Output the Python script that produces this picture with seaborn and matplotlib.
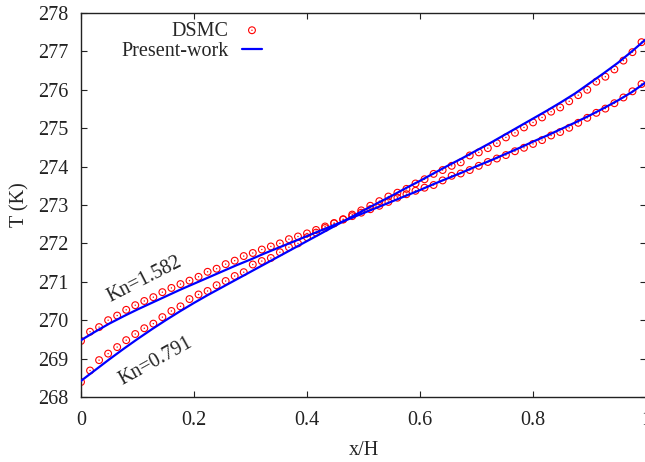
"""
Temperature profile across the channel: DSMC vs present work, two Knudsen numbers
"""

import matplotlib
matplotlib.use('Agg')
import matplotlib.pyplot as plt
import seaborn as sns

# DSMC sample positions (x/H)
x_dsmc = [0.0, 0.016, 0.032, 0.048, 0.064, 0.08, 0.096, 0.112, 0.128, 0.144,
          0.16, 0.176, 0.192, 0.208, 0.224, 0.24, 0.256, 0.272, 0.288, 0.304,
          0.32, 0.336, 0.352, 0.368, 0.384, 0.4, 0.416, 0.432, 0.448, 0.464,
          0.48, 0.496, 0.512, 0.528, 0.544, 0.56, 0.576, 0.592, 0.608, 0.624,
          0.64, 0.656, 0.672, 0.688, 0.704, 0.72, 0.736, 0.752, 0.768, 0.784,
          0.8, 0.816, 0.832, 0.848, 0.864, 0.88, 0.896, 0.912, 0.928, 0.944,
          0.96, 0.976, 0.992]

# DSMC temperatures (K)
t_dsmc_1582 = [269.46, 269.70, 269.82, 270.00, 270.12, 270.27, 270.39, 270.50, 270.60, 270.73,
               270.84, 270.94, 271.03, 271.13, 271.26, 271.34, 271.46, 271.55, 271.67, 271.75,
               271.84, 271.92, 272.00, 272.11, 272.18, 272.26, 272.35, 272.44, 272.53, 272.62,
               272.71, 272.80, 272.89, 272.98, 273.08, 273.19, 273.28, 273.37, 273.45, 273.52,
               273.64, 273.76, 273.82, 273.91, 274.02, 274.12, 274.21, 274.30, 274.40, 274.49,
               274.59, 274.69, 274.81, 274.90, 275.01, 275.14, 275.27, 275.40, 275.51, 275.65,
               275.80, 275.96, 276.15]
t_dsmc_0791 = [268.39, 268.69, 268.96, 269.13, 269.30, 269.48, 269.64, 269.79, 269.91, 270.08,
               270.24, 270.36, 270.55, 270.67, 270.76, 270.91, 271.02, 271.15, 271.25, 271.45,
               271.54, 271.62, 271.77, 271.90, 272.00, 272.16, 272.28, 272.40, 272.52, 272.63,
               272.75, 272.86, 272.98, 273.10, 273.22, 273.32, 273.42, 273.56, 273.67, 273.81,
               273.91, 274.02, 274.11, 274.29, 274.37, 274.48, 274.61, 274.76, 274.88, 275.02,
               275.15, 275.28, 275.43, 275.54, 275.70, 275.86, 276.00, 276.21, 276.34, 276.53,
               276.76, 276.98, 277.24]

# present-work curves
x_line = [0.0, 0.025, 0.05, 0.075, 0.1, 0.125, 0.15, 0.175, 0.2, 0.225,
          0.25, 0.275, 0.3, 0.325, 0.35, 0.375, 0.4, 0.425, 0.45, 0.475,
          0.5, 0.525, 0.55, 0.575, 0.6, 0.625, 0.65, 0.675, 0.7, 0.725,
          0.75, 0.775, 0.8, 0.825, 0.85, 0.875, 0.9, 0.925, 0.95, 0.975, 1.0]
t_line_1582 = [269.48, 269.70, 269.91, 270.10, 270.28, 270.45, 270.62, 270.79, 270.95, 271.11,
               271.27, 271.43, 271.58, 271.74, 271.89, 272.04, 272.19, 272.34, 272.49, 272.64,
               272.79, 272.94, 273.09, 273.24, 273.39, 273.55, 273.70, 273.85, 274.01, 274.16,
               274.32, 274.48, 274.65, 274.81, 274.98, 275.15, 275.33, 275.52, 275.72, 275.94,
               276.20]
t_line_0791 = [268.42, 268.70, 268.98, 269.25, 269.51, 269.76, 270.00, 270.23, 270.45, 270.66,
               270.86, 271.06, 271.26, 271.46, 271.66, 271.86, 272.06, 272.26, 272.46, 272.66,
               272.86, 273.05, 273.24, 273.44, 273.63, 273.83, 274.03, 274.22, 274.42, 274.62,
               274.83, 275.04, 275.25, 275.46, 275.68, 275.91, 276.17, 276.43, 276.70, 277.00,
               277.32]

x_ticks = [0, 0.2, 0.4, 0.6, 0.8, 1.0]
x_tick_labels = ['0', '0.2', '0.4', '0.6', '0.8', '1']
y_ticks = [268, 269, 270, 271, 272, 273, 274, 275, 276, 277, 278]

sns.set_theme(style='ticks')
plt.rcParams['font.family'] = ['Liberation Serif', 'DejaVu Serif']
plt.rcParams['text.color'] = '#262626'
plt.rcParams['axes.labelcolor'] = '#262626'

fs = 14.5

fig = plt.figure(figsize=(6.45, 4.62), dpi=100)
# axes right edge sits just past the image border, like the original
ax = fig.add_axes([0.1256, 0.1407, 0.8760, 0.8312])

for t in (t_dsmc_0791, t_dsmc_1582):
    sns.scatterplot(x=x_dsmc, y=t, ax=ax, marker='o', s=24, facecolor='none',
                    edgecolor='#ff0000', linewidth=0.8, zorder=2, legend=False)
    sns.scatterplot(x=x_dsmc, y=t, ax=ax, marker='o', s=1.0, color='#ff0000',
                    edgecolor='none', linewidth=0, zorder=2, legend=False)

for t in (t_line_0791, t_line_1582):
    sns.lineplot(x=x_line, y=t, ax=ax, color='#0000ff', linewidth=1.6, zorder=3)

ax.set_xlim(0, 1)
ax.set_ylim(268, 278)
ax.set_xticks(x_ticks)
ax.set_xticklabels(x_tick_labels)
ax.set_yticks(y_ticks)
ax.tick_params(direction='in', length=4.3, width=0.8, top=True, right=True,
               labelsize=fs, colors='#222222')
ax.tick_params(axis='x', pad=10)
ax.tick_params(axis='y', pad=9)
for sp in ax.spines.values():
    sp.set_linewidth(1.0)
    sp.set_color('#222222')

ax.set_xlabel('x/H', fontsize=fs, labelpad=8)
ax.set_ylabel('T (K)', fontsize=fs, labelpad=6)

ax.text(0.113, 271.05, 'Kn=1.582', rotation=27, ha='center', va='center',
        rotation_mode='anchor', fontsize=fs)
ax.text(0.132, 268.92, 'Kn=0.791', rotation=29, ha='center', va='center',
        rotation_mode='anchor', fontsize=fs)

circ, dot, line = ax.collections[0], ax.collections[1], ax.lines[0]
ax.legend([(circ, dot), line], ['DSMC', 'Present-work'], markerfirst=False,
          frameon=False, loc='upper right', bbox_to_anchor=(0.3204, 0.978),
          handlelength=1.0, handletextpad=0.65, labelspacing=0.05,
          borderpad=0, borderaxespad=0, fontsize=fs)

fig.savefig('out.png', dpi=100, facecolor='white')
plt.close(fig)
